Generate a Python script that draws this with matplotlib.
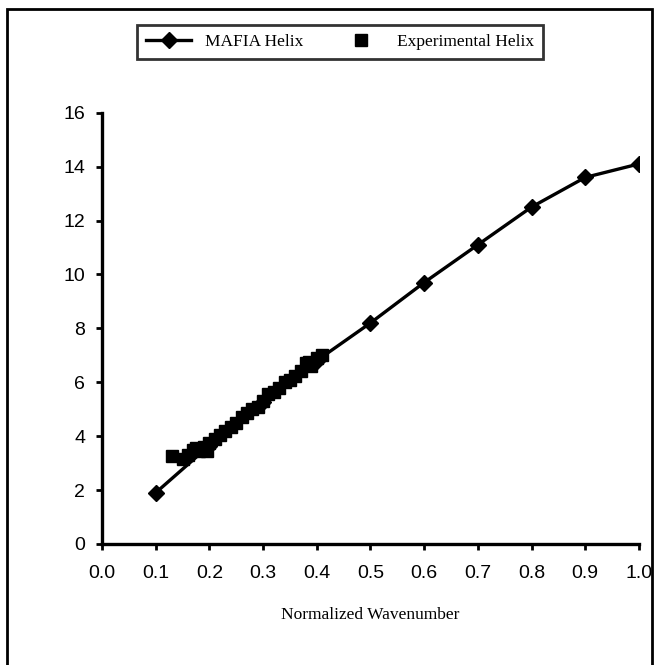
import matplotlib.pyplot as plt
from matplotlib.patches import Rectangle

# MAFIA simulation of the helix
mafia_k = [0.1, 0.2, 0.3, 0.4, 0.5, 0.6, 0.7, 0.8, 0.9, 1.0]
mafia_f = [1.9, 3.65, 5.25, 6.8, 8.2, 9.7, 11.1, 12.5, 13.6, 14.1]

# measured helix
exp_k = [0.13, 0.15, 0.16, 0.17, 0.175, 0.18, 0.19, 0.195, 0.20, 0.21,
         0.22, 0.23, 0.24, 0.25, 0.26, 0.27, 0.28, 0.29, 0.30, 0.31,
         0.32, 0.33, 0.34, 0.35, 0.36, 0.37, 0.38, 0.385, 0.39, 0.40, 0.41]
exp_f = [3.25, 3.15, 3.3, 3.5, 3.55, 3.45, 3.6, 3.45, 3.75, 3.9,
         4.05, 4.2, 4.35, 4.5, 4.7, 4.85, 5.0, 5.1, 5.3, 5.55,
         5.65, 5.8, 6.0, 6.1, 6.25, 6.4, 6.7, 6.75, 6.6, 6.9, 7.0]

x_ticks = [0.0, 0.1, 0.2, 0.3, 0.4, 0.5, 0.6, 0.7, 0.8, 0.9, 1.0]
y_ticks = [0, 2, 4, 6, 8, 10, 12, 14, 16]

fig = plt.figure(figsize=(6.58, 6.65), dpi=100)
ax = fig.add_axes([0.155, 0.182, 0.816, 0.6485])

ax.plot(mafia_k, mafia_f, color='black', linewidth=2.4, marker='D',
        markersize=8, solid_joinstyle='round', label='MAFIA Helix', zorder=3)
ax.plot(exp_k, exp_f, linestyle='none', color='black', marker='s',
        markersize=9, label='Experimental Helix', zorder=4)

ax.set_xlim(0, 1.0)
ax.set_ylim(0, 16)
ax.set_xticks(x_ticks)
ax.set_xticklabels([f'{v:.1f}' for v in x_ticks])
ax.set_yticks(y_ticks)

for side in ['top', 'right']:
    ax.spines[side].set_visible(False)
for side in ['left', 'bottom']:
    ax.spines[side].set_linewidth(2.4)

ax.tick_params(axis='both', direction='out', length=4, width=2,
               labelsize=14, labelfontfamily='Liberation Sans')
ax.tick_params(axis='x', pad=11)
ax.tick_params(axis='y', pad=8)

ax.set_xlabel('Normalized Wavenumber', fontsize=12.5, family='Liberation Serif',
              labelpad=18)

leg = fig.legend(loc='center', bbox_to_anchor=(0.517, 0.9365), ncol=2,
                 prop={'family': 'Liberation Serif', 'size': 12.5},
                 frameon=True, fancybox=False, edgecolor='black',
                 handlelength=2.6, columnspacing=2.0, borderpad=0.5)
leg.get_frame().set_linewidth(2)

# outer frame around the whole chart
fig.patches.append(Rectangle((7 / 658, -0.02), 645 / 658, 1 - 9 / 665 + 0.02,
                             transform=fig.transFigure, fill=False,
                             edgecolor='black', linewidth=2))

fig.savefig('out.png', dpi=100)
